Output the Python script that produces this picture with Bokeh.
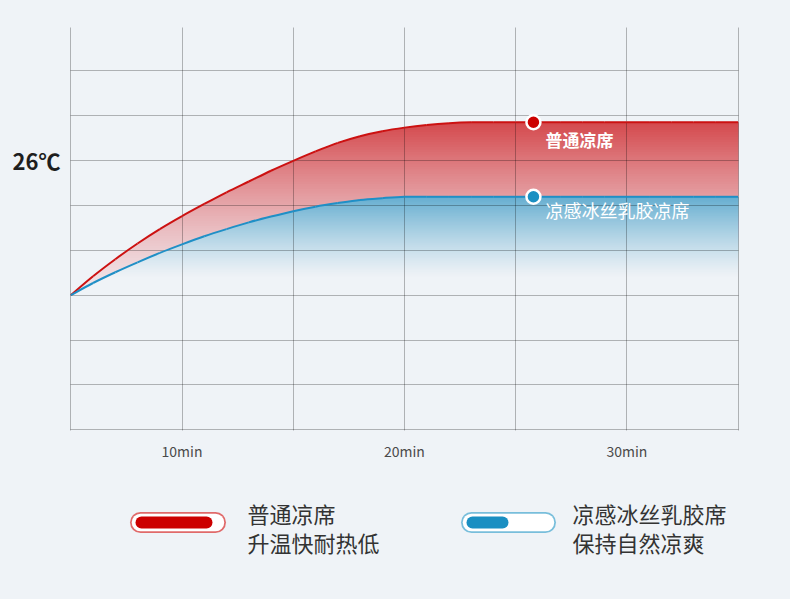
import numpy as np
from bokeh.plotting import figure
from bokeh.models import Range1d, FixedTicker, GlobalInlineStyleSheet
from bokeh.layouts import column
from bokeh.core.properties import value
from bokeh.embed import file_html
from bokeh.resources import INLINE

# ---------------- data ----------------
minutes = [5, 6, 7, 8, 9, 10, 11, 12, 13, 14, 15, 16, 17, 18, 19, 20,
           21, 22, 23, 24, 25, 26, 27, 28, 29, 30, 31, 32, 33, 34, 35]
red_temp = [23.00, 23.42, 23.80, 24.15, 24.47, 24.76, 25.03, 25.29, 25.53, 25.77,
            25.99, 26.20, 26.39, 26.54, 26.65, 26.73, 26.79, 26.83, 26.85, 26.85,
            26.85, 26.85, 26.85, 26.85, 26.85, 26.85, 26.85, 26.85, 26.85, 26.85, 26.85]
blue_temp = [23.00, 23.27, 23.51, 23.73, 23.94, 24.13, 24.31, 24.47, 24.62, 24.75,
             24.87, 24.97, 25.05, 25.12, 25.16, 25.19, 25.19, 25.19, 25.19, 25.19,
             25.19, 25.19, 25.19, 25.19, 25.19, 25.19, 25.19, 25.19, 25.19, 25.19, 25.19]
series_names = ["普通凉席", "凉感冰丝乳胶凉席"]
marker_minute = 25.8

x_ticks = [10, 20, 30]
x_tick_labels = ["10min", "20min", "30min"]
y_ticks = [26]
y_tick_labels = ["26℃"]
x_grid_ticks = [5, 10, 15, 20, 25, 30, 35]
y_grid_ticks = [20, 21, 22, 23, 24, 25, 26, 27, 28]

legend_titles = ["普通凉席", "凉感冰丝乳胶席"]
legend_subtitles = ["升温快耐热低", "保持自然凉爽"]

# ---------------- styles / layout ----------------
BG = "#eff3f7"
FONT = "Noto Sans CJK SC"
RED = "#cc1111"
BLUE = "#1f8fc6"

W = 782
H_CHART = 470
H_LEG = 121
FRAME_L, FRAME_R, FRAME_T, FRAME_B = 70, 738, 27, 430

p = figure(width=W, height=H_CHART, output_backend="svg", toolbar_location=None,
           x_range=Range1d(4.985, 35.02), y_range=Range1d(19.985, 28.96),
           min_border_left=FRAME_L, min_border_right=W - FRAME_R, min_border_top=FRAME_T,
           min_border_bottom=H_CHART - FRAME_B,
           background_fill_color=BG, border_fill_color=BG, outline_line_color=None)

# grid drawn above the fills
p.xgrid.ticker = FixedTicker(ticks=x_grid_ticks)
p.ygrid.ticker = FixedTicker(ticks=y_grid_ticks)
for g in (p.xgrid, p.ygrid):
    g.grid_line_color = "black"
    g.grid_line_alpha = 0.27
    g.grid_line_width = 1
    g.level = "guide"

# axes
p.xaxis.ticker = FixedTicker(ticks=x_ticks)
p.xaxis.major_label_overrides = {t: l for t, l in zip(x_ticks, x_tick_labels)}
p.yaxis.ticker = FixedTicker(ticks=y_ticks)
p.yaxis.major_label_overrides = {t: l for t, l in zip(y_ticks, y_tick_labels)}
for ax in (p.xaxis, p.yaxis):
    ax.axis_line_color = None
    ax.major_tick_line_color = None
    ax.minor_tick_line_color = None
    ax.major_label_text_font = FONT
p.xaxis.major_label_text_font_size = "14px"
p.xaxis.major_label_text_color = "#4a4a4a"
p.xaxis.major_label_standoff = 4
p.yaxis.major_label_text_font_size = "22px"
p.yaxis.major_label_text_font_style = "bold"
p.yaxis.major_label_text_color = "#1e1e1e"
p.yaxis.major_label_standoff = 4


# ---------------- smooth curve helpers (Catmull-Rom -> cubic Bezier) ----------------
def bezier_controls(xs, ys):
    xs = np.asarray(xs, float)
    ys = np.asarray(ys, float)
    xp = np.concatenate([[xs[0]], xs, [xs[-1]]])
    yp = np.concatenate([[ys[0]], ys, [ys[-1]]])
    x0, y0 = xp[1:-2], yp[1:-2]
    x1, y1 = xp[2:-1], yp[2:-1]
    cx0 = x0 + (xp[2:-1] - xp[:-3]) / 6
    cy0 = y0 + (yp[2:-1] - yp[:-3]) / 6
    cx1 = x1 - (xp[3:] - xp[1:-2]) / 6
    cy1 = y1 - (yp[3:] - yp[1:-2]) / 6
    return dict(x0=x0, y0=y0, x1=x1, y1=y1, cx0=cx0, cy0=cy0, cx1=cx1, cy1=cy1)


def bezier_dense(c, xgrid):
    t = np.linspace(0, 1, 40)[:, None]
    bx = ((1 - t) ** 3 * c["x0"] + 3 * (1 - t) ** 2 * t * c["cx0"]
          + 3 * (1 - t) * t ** 2 * c["cx1"] + t ** 3 * c["x1"])
    by = ((1 - t) ** 3 * c["y0"] + 3 * (1 - t) ** 2 * t * c["cy0"]
          + 3 * (1 - t) * t ** 2 * c["cy1"] + t ** 3 * c["y1"])
    bx = bx.T.ravel()
    by = by.T.ravel()
    order = np.argsort(bx, kind="stable")
    return np.interp(xgrid, bx[order], by[order])


red_c = bezier_controls(minutes, red_temp)
blue_c = bezier_controls(minutes, blue_temp)

xd = np.linspace(minutes[0], minutes[-1], 1201)
red_d = bezier_dense(red_c, xd)
blue_d = bezier_dense(blue_c, xd)


def hexc(c):
    return "#%02x%02x%02x" % tuple(int(round(v)) for v in c)


# gradient fills (opaque bands, cumulative so no seams)
red_light = np.array([241, 229, 233])
red_dark = np.array([212, 72, 76])
r_lo, r_hi = min(red_temp), max(red_temp)
n = 70
levels = np.linspace(r_lo, r_hi, n + 1)
for k in range(n):
    ya = levels[k]
    t = ((levels[k] + levels[k + 1]) / 2 - r_lo) / (r_hi - r_lo)
    col = red_light + (red_dark - red_light) * t ** 1.4
    y1 = np.maximum(blue_d, ya)
    y2 = np.maximum(red_d, y1)
    p.varea(x=xd, y1=y1, y2=y2, fill_color=hexc(col), fill_alpha=1.0)

blue_light = np.array([238, 242, 246])
blue_dark = np.array([102, 174, 208])
b_lo, b_hi = 23.4, max(blue_temp)
levels = np.linspace(b_lo, b_hi, n + 1)
for k in range(n):
    ya = levels[k]
    s = ((levels[k] + levels[k + 1]) / 2 - b_lo) / (b_hi - b_lo)
    col = blue_light + (blue_dark - blue_light) * s ** 1.2
    y2 = np.maximum(blue_d, ya)
    p.varea(x=xd, y1=np.full_like(xd, ya), y2=y2, fill_color=hexc(col), fill_alpha=1.0)

# smooth lines through the data points
p.bezier(**red_c, line_color=RED, line_width=2, level="overlay")
p.bezier(**blue_c, line_color=BLUE, line_width=2, level="overlay")

# markers and labels
mr = float(np.interp(marker_minute, minutes, red_temp))
mb = float(np.interp(marker_minute, minutes, blue_temp))
p.scatter([marker_minute], [mr], size=14, fill_color="#cc0000", line_color="white",
          line_width=2.5, level="overlay")
p.scatter([marker_minute], [mb], size=14, fill_color="#1a8fc2", line_color="white",
          line_width=2.5, level="overlay")
p.text([marker_minute], [mr], text=[series_names[0]], x_offset=12, y_offset=17,
       text_color="white", text_font=value(FONT), text_font_size="17px",
       text_font_style="bold", text_baseline="middle", text_align="left", level="overlay")
p.text([marker_minute], [mb], text=[series_names[1]], x_offset=12, y_offset=13,
       text_color="white", text_font=value(FONT), text_font_size="18px",
       text_baseline="middle", text_align="left", level="overlay")

# ---------------- legend figure ----------------
top = H_CHART
lg = figure(width=W, height=H_LEG, output_backend="svg", toolbar_location=None,
            x_range=Range1d(FRAME_L, FRAME_R), y_range=Range1d(top + H_LEG, top),
            min_border_left=FRAME_L, min_border_right=W - FRAME_R,
            min_border_top=0, min_border_bottom=0,
            background_fill_color=BG, border_fill_color=BG, outline_line_color=None)
lg.axis.visible = False
lg.grid.visible = False

pill_y = 522
pills = [
    dict(x0=140, x1=215, outline="#e06a6a", bar0=141, bar1=206, bar="#cc0000", tx=247),
    dict(x0=471, x1=545, outline="#78bedb", bar0=472, bar1=502, bar="#1a8fc2", tx=572),
]
for i, pl in enumerate(pills):
    lg.segment(pl["x0"], pill_y, pl["x1"], pill_y, line_color=pl["outline"],
               line_width=21, line_cap="round")
    lg.segment(pl["x0"], pill_y, pl["x1"], pill_y, line_color="white",
               line_width=17.5, line_cap="round")
    lg.segment(pl["bar0"], pill_y, pl["bar1"], pill_y, line_color=pl["bar"],
               line_width=12, line_cap="round")
    lg.text([pl["tx"]], [512], text=[legend_titles[i]], text_color="#333333",
            text_font=value(FONT), text_font_size="22px", text_baseline="middle",
            text_align="left")
    lg.text([pl["tx"]], [541], text=[legend_subtitles[i]], text_color="#333333",
            text_font=value(FONT), text_font_size="22px", text_baseline="middle",
            text_align="left")

layout = column(p, lg, spacing=0)
layout.stylesheets = [GlobalInlineStyleSheet(
    css="html, body { margin: 0; padding: 0; background: #eff3f7; }")]

open("out.html", "w").write(file_html(layout, INLINE))
